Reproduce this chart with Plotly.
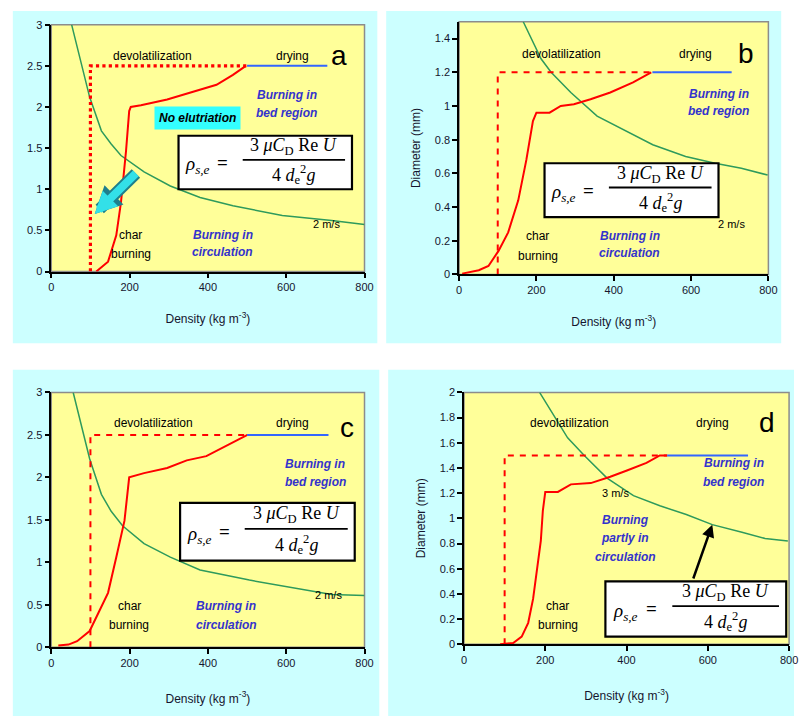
import plotly.graph_objects as go

# ---- panel a: 2 m/s, no elutriation ----
a_char_x = [115, 145, 166, 178, 191, 199, 203, 229, 296, 355, 422, 464, 497]
a_char_y = [0.0, 0.12, 0.44, 0.84, 1.47, 1.95, 2.0, 2.02, 2.09, 2.17, 2.27, 2.39, 2.5]
a_dry_x = [500, 705]
a_dry_y = [2.5, 2.5]
a_dev_x = [100, 100, 500]
a_dev_y = [0.0, 2.5, 2.5]
a_term_x = [52, 98, 128, 153, 178, 237, 304, 380, 464, 590, 716, 800]
a_term_y = [3.0, 2.12, 1.71, 1.55, 1.41, 1.21, 1.04, 0.9, 0.8, 0.68, 0.62, 0.57]

# ---- panel b: 2 m/s, 1.2 mm particle ----
b_char_x = [8, 51, 76, 102, 127, 153, 174, 191, 200, 234, 263, 297, 340, 391, 450, 497]
b_char_y = [0.005, 0.025, 0.05, 0.14, 0.25, 0.44, 0.68, 0.91, 0.96, 0.96, 1.0, 1.01, 1.04, 1.08, 1.14, 1.2]
b_dry_x = [500, 705]
b_dry_y = [1.2, 1.2]
b_dev_x = [100, 100, 500]
b_dev_y = [0.0, 1.2, 1.2]
b_term_x = [166, 212, 238, 289, 357, 433, 501, 586, 662, 730, 798]
b_term_y = [1.5, 1.28, 1.2, 1.08, 0.94, 0.85, 0.77, 0.70, 0.66, 0.63, 0.59]

# ---- panel c: 2 m/s, 2.5 mm particle ----
c_char_x = [18, 44, 66, 98, 119, 145, 166, 187, 199, 237, 296, 346, 396, 447, 501]
c_char_y = [0.02, 0.03, 0.07, 0.19, 0.39, 0.64, 1.06, 1.49, 2.0, 2.05, 2.11, 2.2, 2.25, 2.37, 2.5]
c_dry_x = [500, 708]
c_dry_y = [2.5, 2.5]
c_dev_x = [100, 100, 500]
c_dev_y = [0.0, 2.5, 2.5]
c_term_x = [56, 98, 128, 153, 182, 237, 304, 380, 506, 632, 716, 800]
c_term_y = [3.0, 2.22, 1.8, 1.6, 1.43, 1.22, 1.06, 0.91, 0.79, 0.69, 0.62, 0.61]

# ---- panel d: 3 m/s, 1.5 mm particle ----
d_char_x = [89, 121, 142, 158, 170, 181, 189, 194, 200, 231, 263, 312, 360, 401, 449, 482, 500]
d_char_y = [0.0, 0.01, 0.06, 0.17, 0.36, 0.62, 0.82, 1.06, 1.21, 1.21, 1.27, 1.28, 1.33, 1.38, 1.44, 1.5, 1.5]
d_dry_x = [500, 699]
d_dry_y = [1.5, 1.5]
d_dev_x = [100, 100, 500]
d_dev_y = [0.0, 1.5, 1.5]
d_term_x = [186, 223, 255, 296, 352, 417, 482, 547, 611, 684, 741, 797]
d_term_y = [2.0, 1.81, 1.64, 1.50, 1.32, 1.18, 1.10, 1.03, 0.95, 0.89, 0.84, 0.82]

x_title = "Density (kg m<sup>-3</sup>)"
y_title = "Diameter (mm)"

W, H = 803, 722
RED, BLUE, GREEN = "#FF0000", "#3366FF", "#2E9A5C"
CYAN_BG, YELLOW = "#CCFFFF", "#FFFF99"
LABEL_BLUE = "#3333CC"
INK = "#15152E"
SANS = "Liberation Sans, Arial, sans-serif"
SERIF = "Liberation Serif, Times New Roman, serif"


def xdom(x0, x1):
    return [x0 / W, x1 / W]


def ydom(top, bottom):
    return [1 - bottom / H, 1 - top / H]


fig = go.Figure()

panels = [
    dict(ax="", char=(a_char_x, a_char_y), dry=(a_dry_x, a_dry_y), dev=(a_dev_x, a_dev_y),
         term=(a_term_x, a_term_y), dev_line=dict(color=RED, width=3.2, dash="dot")),
    dict(ax="2", char=(b_char_x, b_char_y), dry=(b_dry_x, b_dry_y), dev=(b_dev_x, b_dev_y),
         term=(b_term_x, b_term_y), dev_line=dict(color=RED, width=2, dash="6px,6px")),
    dict(ax="3", char=(c_char_x, c_char_y), dry=(c_dry_x, c_dry_y), dev=(c_dev_x, c_dev_y),
         term=(c_term_x, c_term_y), dev_line=dict(color=RED, width=2, dash="6px,6px")),
    dict(ax="4", char=(d_char_x, d_char_y), dry=(d_dry_x, d_dry_y), dev=(d_dev_x, d_dev_y),
         term=(d_term_x, d_term_y), dev_line=dict(color=RED, width=2, dash="6px,6px")),
]

for p in panels:
    xa, ya = "x" + p["ax"], "y" + p["ax"]
    fig.add_trace(go.Scatter(x=p["term"][0], y=p["term"][1], mode="lines",
                             line=dict(color=GREEN, width=1.5), xaxis=xa, yaxis=ya))
    fig.add_trace(go.Scatter(x=p["dev"][0], y=p["dev"][1], mode="lines",
                             line=p["dev_line"], xaxis=xa, yaxis=ya))
    fig.add_trace(go.Scatter(x=p["char"][0], y=p["char"][1], mode="lines",
                             line=dict(color=RED, width=2), xaxis=xa, yaxis=ya))
    fig.add_trace(go.Scatter(x=p["dry"][0], y=p["dry"][1], mode="lines",
                             line=dict(color=BLUE, width=2), xaxis=xa, yaxis=ya))

axis_common = dict(showgrid=False, zeroline=False, showline=True, linecolor="black", linewidth=1.5,
                   ticks="outside", ticklen=5, tickwidth=1.5, tickcolor="black",
                   tickfont=dict(family=SANS, size=11, color=INK))
xcommon = dict(axis_common, range=[0, 800], dtick=200, tick0=0,
               title=dict(text=x_title, font=dict(family=SANS, size=12, color=INK), standoff=22))
ytitle = dict(text=y_title, font=dict(family=SANS, size=12, color=INK), standoff=12)

fig.update_layout(
    width=W, height=H, margin=dict(l=0, r=0, t=0, b=0),
    paper_bgcolor="white", plot_bgcolor="rgba(0,0,0,0)", showlegend=False,
    xaxis=dict(xcommon, domain=xdom(49, 367), anchor="y"),
    yaxis=dict(axis_common, domain=ydom(19, 270), range=[0, 3], dtick=0.5, anchor="x"),
    xaxis2=dict(xcommon, domain=xdom(463, 777), anchor="y2"),
    yaxis2=dict(axis_common, domain=ydom(16, 273), range=[0, 1.5], dtick=0.2, anchor="x2", title=ytitle),
    xaxis3=dict(xcommon, domain=xdom(49, 367), anchor="y3",
                title=dict(xcommon["title"], standoff=26)),
    yaxis3=dict(axis_common, domain=ydom(393, 652), range=[0, 3], dtick=0.5, anchor="x3"),
    xaxis4=dict(xcommon, domain=xdom(468, 798), anchor="y4",
                title=dict(xcommon["title"], standoff=26)),
    yaxis4=dict(axis_common, domain=ydom(393, 649), range=[0, 2], dtick=0.2, anchor="x4", title=ytitle),
)

shapes = []
# cyan panel backgrounds (pixel rectangles converted to paper fractions)
for (l, t, r, b) in [(10, 5, 380, 343), (389, 5, 790, 343), (10, 370, 382, 722), (391, 370, 803, 722)]:
    shapes.append(dict(type="rect", xref="paper", yref="paper", x0=l / W, x1=r / W,
                       y0=1 - b / H, y1=1 - t / H, fillcolor=CYAN_BG, line=dict(width=0), layer="below"))
# yellow plotting areas with grey frame
for p in panels:
    shapes.append(dict(type="rect", xref="x" + p["ax"] + " domain", yref="y" + p["ax"] + " domain",
                       x0=0, x1=1, y0=0, y1=1, fillcolor=YELLOW, line=dict(color="#8C8C8C", width=1.5),
                       layer="below"))

annotations = []


def text(ax, x, y, s, size=12, color="black", family=SANS, italic=False, bold=False, **kw):
    if bold:
        s = "<b>" + s + "</b>"
    if italic:
        s = "<i>" + s + "</i>"
    annotations.append(dict(xref="x" + ax, yref="y" + ax, x=x, y=y, text=s, showarrow=False,
                            font=dict(family=family, size=size, color=color), **kw))


def equation(ax, x0, x1, y0, y1):
    """Boxed formula for the terminal-velocity density."""
    xr, yr = "x" + ax, "y" + ax
    shapes.append(dict(type="rect", xref=xr, yref=yr, x0=x0, x1=x1, y0=y0, y1=y1,
                       fillcolor="white", line=dict(color="black", width=2.2), layer="above"))
    w, h = x1 - x0, y1 - y0
    shapes.append(dict(type="line", xref=xr, yref=yr, x0=x0 + 0.37 * w, x1=x0 + 0.96 * w,
                       y0=y0 + 0.55 * h, y1=y0 + 0.55 * h, line=dict(color="black", width=1.8),
                       layer="above"))
    text(ax, x0 + 0.11 * w, y0 + 0.45 * h, "ρ<sub>s,e</sub>", size=19, family=SERIF, italic=True)
    text(ax, x0 + 0.255 * w, y0 + 0.5 * h, "=", size=19, family=SERIF, bold=True)
    text(ax, x0 + 0.665 * w, y0 + 0.80 * h, "3 <i>μC</i><sub>D</sub> Re <i>U</i>", size=18, family=SERIF)
    text(ax, x0 + 0.665 * w, y0 + 0.27 * h, "4 <i>d</i><sub>e</sub><sup>2</sup><i>g</i>", size=18,
         family=SERIF)


def blue_lines(ax, x, ys, lines):
    for yy, s in zip(ys, lines):
        text(ax, x, yy, s, color=LABEL_BLUE, italic=True, bold=True)


def black_lines(ax, x, ys, lines):
    for yy, s in zip(ys, lines):
        text(ax, x, yy, s)


# panel a
text("", 258, 2.62, "devolatilization")
text("", 615, 2.62, "drying")
text("", 735, 2.62, "a", size=28, family=SANS)
blue_lines("", 602, [2.15, 1.93], ["Burning in", "bed region"])
text("", 373, 1.87, "No elutriation", italic=True, bold=True, bgcolor="#33FFFF", borderpad=4)
text("", 703, 0.58, "2 m/s", size=11)
black_lines("", 203, [0.44, 0.21], ["char", "burning"])
blue_lines("", 438, [0.44, 0.24], ["Burning in", "circulation"])
equation("", 325, 768, 1.0, 1.65)
# block arrow: dark outline underneath, cyan body on top
for col, wdt, size in (("#1E7F8C", 12, 0.45), ("#33E0E8", 8, 0.55)):
    annotations.append(dict(xref="x", yref="y", axref="x", ayref="y", x=111, y=0.70, ax=220, ay=1.21,
                            showarrow=True, arrowhead=2, arrowsize=size, arrowwidth=wdt, arrowcolor=col,
                            text=""))

# panel b
text("2", 264, 1.31, "devolatilization")
text("2", 612, 1.31, "drying")
text("2", 743, 1.31, "b", size=28, family=SANS)
blue_lines("2", 671, [1.07, 0.97], ["Burning in", "bed region"])
text("2", 705, 0.30, "2 m/s", size=11)
black_lines("2", 204, [0.23, 0.11], ["char", "burning"])
blue_lines("2", 442, [0.23, 0.13], ["Burning in", "circulation"])
equation("2", 221, 671, 0.34, 0.66)

# panel c
text("3", 262, 2.64, "devolatilization")
text("3", 615, 2.64, "drying")
text("3", 754, 2.59, "c", size=28, family=SANS)
blue_lines("3", 674, [2.16, 1.95], ["Burning in", "bed region"])
text("3", 708, 0.61, "2 m/s", size=11)
black_lines("3", 199, [0.48, 0.26], ["char", "burning"])
blue_lines("3", 447, [0.48, 0.26], ["Burning in", "circulation"])
equation("3", 329, 775, 1.02, 1.70)

# panel d
text("4", 259, 1.76, "devolatilization")
text("4", 611, 1.76, "drying")
text("4", 745, 1.76, "d", size=28, family=SANS)
blue_lines("4", 664, [1.44, 1.29], ["Burning in", "bed region"])
text("4", 372, 1.20, "3 m/s", size=11)
blue_lines("4", 397, [0.99, 0.84, 0.69], ["Burning", "partly in", "circulation"])
black_lines("4", 231, [0.30, 0.15], ["char", "burning"])
equation("4", 348, 793, 0.06, 0.50)
annotations.append(dict(xref="x4", yref="y4", axref="x4", ayref="y4", x=611, y=0.95, ax=563, ay=0.51,
                        showarrow=True, arrowhead=2, arrowsize=1, arrowwidth=2.5, arrowcolor="black",
                        text=""))

fig.update_layout(shapes=shapes, annotations=annotations)
fig.write_html("out.html")
